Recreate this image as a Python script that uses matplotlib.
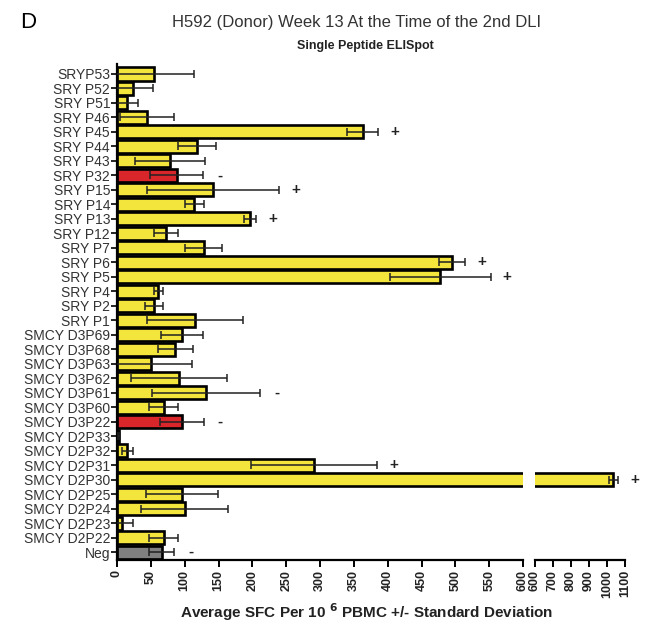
import numpy as np
import matplotlib
matplotlib.use('Agg')
import matplotlib.pyplot as plt

plt.rcParams['font.family'] = ['Liberation Sans', 'DejaVu Sans']

# peptides, top to bottom
labels = ['SRYP53', 'SRY P52', 'SRY P51', 'SRY P46', 'SRY P45', 'SRY P44', 'SRY P43',
          'SRY P32', 'SRY P15', 'SRY P14', 'SRY P13', 'SRY P12', 'SRY P7', 'SRY P6',
          'SRY P5', 'SRY P4', 'SRY P2', 'SRY P1', 'SMCY D3P69', 'SMCY D3P68',
          'SMCY D3P63', 'SMCY D3P62', 'SMCY D3P61', 'SMCY D3P60', 'SMCY D3P22',
          'SMCY D2P33', 'SMCY D2P32', 'SMCY D2P31', 'SMCY D2P30', 'SMCY D2P25',
          'SMCY D2P24', 'SMCY D2P23', 'SMCY D2P22', 'Neg']
means = [55, 23, 15, 44, 363, 118, 78, 88, 142, 114, 196, 72, 128, 495,
         478, 61, 55, 115, 96, 86, 50, 92, 131, 69, 96,
         3, 15, 291, 1035, 96, 100, 7, 69, 66]
sds = [59, 30, 16, 40, 23, 28, 52, 39, 97, 14, 9, 18, 27, 19,
       74, 7, 13, 71, 31, 26, 61, 71, 80, 21, 32,
       2, 8, 93, 25, 53, 64, 16, 21, 18]
# response call next to the bar
calls = ['', '', '', '', '+', '', '', '-', '+', '', '+', '', '', '+',
         '+', '', '', '', '', '', '', '', '-', '', '-',
         '', '', '+', '+', '', '', '', '', '-']
kinds = ['pep'] * 34
kinds[7] = 'ctrl'
kinds[24] = 'ctrl'
kinds[33] = 'neg'

left_ticks = list(range(0, 601, 50))
right_ticks = [600, 700, 800, 900, 1000, 1100]

colors = {'pep': '#F3E53C', 'ctrl': '#D9262B', 'neg': '#808080'}
bar_colors = [colors[k] for k in kinds]

fig = plt.figure(figsize=(6.47, 6.28), dpi=100)
ax1 = fig.add_axes([117 / 647, 68 / 628, 406 / 647, 496 / 628])
ax2 = fig.add_axes([535 / 647, 68 / 628, 90 / 647, 496 / 628], sharey=ax1)

y = np.arange(len(labels))
for ax in (ax1, ax2):
    ax.barh(y, means, height=0.9, color=bar_colors, edgecolor='black', linewidth=1.9, zorder=2)
    ax.errorbar(means, y, xerr=sds, fmt='none', ecolor='#222222', elinewidth=1.1,
                capsize=3, capthick=1.1, zorder=3)
    for s in ('top', 'right'):
        ax.spines[s].set_visible(False)
    ax.spines['bottom'].set_linewidth(1.6)
    ax.tick_params(axis='x', direction='out', length=5, width=1.4, pad=2)

ax1.set_xlim(0, 600)
ax2.set_xlim(600, 1100)
ax1.set_ylim(33.55, -0.69)
ax1.set_xticks(left_ticks)
ax2.set_xticks(right_ticks)
ax1.set_xticklabels([str(v) for v in left_ticks], fontweight='bold', rotation=90,
                    fontsize=9, color='#222222')
ax2.set_xticklabels([str(v) for v in right_ticks], fontweight='bold', rotation=90,
                    fontsize=9, color='#222222')

ax1.spines['left'].set_linewidth(1.6)
ax1.set_yticks(y)
ax1.set_yticklabels(labels, fontsize=10, color='#333333')
ax1.tick_params(axis='y', direction='out', length=4, width=1.2, pad=1)
ax2.spines['left'].set_visible(False)
ax2.tick_params(axis='y', left=False, labelleft=False)

# +/- calls
for i, c in enumerate(calls):
    if not c:
        continue
    xe = means[i] + sds[i]
    ax = ax2 if xe > 600 else ax1
    ax.annotate(c, (xe, i), xytext=(12, 0), textcoords='offset points',
                ha='center', va='center', fontsize=11, fontweight='bold',
                annotation_clip=False, color='#222222')

fig.text(20 / 647, 1 - 22 / 628, 'D', fontsize=16, ha='left', va='center')
fig.text(357 / 647, 1 - 22 / 628, 'H592 (Donor) Week 13 At the Time of the 2nd DLI',
         fontsize=12, ha='center', va='center', color='#333333')
fig.text(365 / 647, 1 - 46 / 628, 'Single Peptide ELISpot', fontsize=9,
         fontweight='bold', ha='center', va='center', color='#222222')
fig.text(367 / 647, 1 - 612 / 628, 'Average SFC Per 10 $^{\\mathbf{6}}$ PBMC +/- Standard Deviation',
         fontsize=11, fontweight='bold', ha='center', va='center', color='#222222')

fig.savefig('out.png', dpi=100)
